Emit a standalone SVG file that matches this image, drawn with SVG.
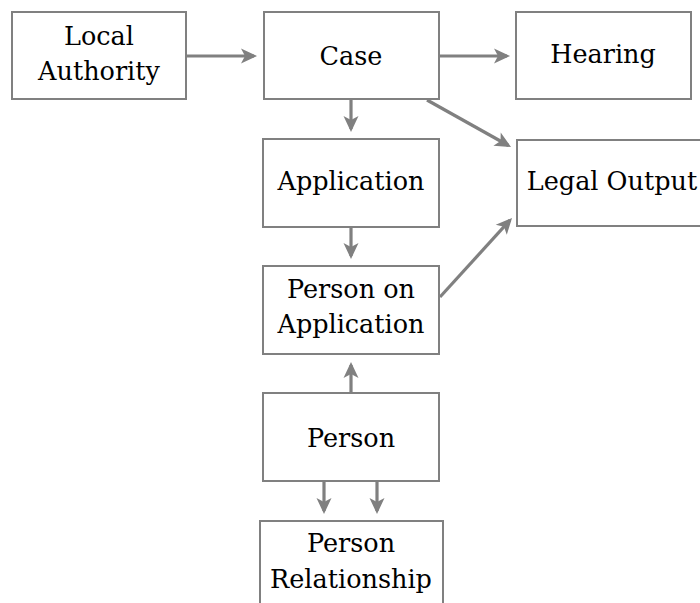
<svg xmlns="http://www.w3.org/2000/svg" width="700" height="603" viewBox="0 0 700 603">
<style>
.box{fill:#fff;stroke:#808080;stroke-width:2}
.lbl{font-family:"DejaVu Serif","Liberation Serif",serif;font-size:25.5px;fill:#000;text-anchor:middle}
.edge{fill:none;stroke:#808080;stroke-width:3.2}
</style>
<defs>
<marker id="ah" viewBox="-18 -9 19 18" refX="-3" refY="0" markerWidth="19" markerHeight="18" markerUnits="userSpaceOnUse" orient="auto">
<path d="M0,0 L-16,-7.5 L-12,0 L-16,7.5 z" fill="#808080"/>
</marker>
</defs>
<rect width="700" height="603" fill="#fff"/>
<g id="connectors">
<path class="edge" marker-end="url(#ah)" d="M186,56 L254,56"/>
<path class="edge" marker-end="url(#ah)" d="M439,56 L507,56"/>
<path class="edge" marker-end="url(#ah)" d="M351,99 L351,129"/>
<path class="edge" marker-end="url(#ah)" d="M427,100 L508.4,145.5"/>
<path class="edge" marker-end="url(#ah)" d="M351,227 L351,256"/>
<path class="edge" marker-end="url(#ah)" d="M440,297 L510,220.2"/>
<path class="edge" marker-end="url(#ah)" d="M351,393 L351,365"/>
<path class="edge" marker-end="url(#ah)" d="M324,481 L324,511"/>
<path class="edge" marker-end="url(#ah)" d="M377,481 L377,511"/>
</g>
<g id="local-authority">
<rect class="box" x="12" y="12" width="174" height="87"/>
<text class="lbl" x="99" y="45">Local</text>
<text class="lbl" x="99" y="80">Authority</text>
</g>
<g id="case">
<rect class="box" x="264" y="12" width="175" height="87"/>
<text class="lbl" x="351" y="65">Case</text>
</g>
<g id="hearing">
<rect class="box" x="516" y="12" width="175" height="87"/>
<text class="lbl" x="603" y="63">Hearing</text>
</g>
<g id="application">
<rect class="box" x="263" y="139" width="176" height="88"/>
<text class="lbl" x="351" y="190">Application</text>
</g>
<g id="legal-output">
<rect class="box" x="517" y="140" width="200" height="86"/>
<text class="lbl" x="612" y="190">Legal Output</text>
</g>
<g id="person-on-application">
<rect class="box" x="263" y="266" width="176" height="88"/>
<text class="lbl" x="351" y="298">Person on</text>
<text class="lbl" x="351" y="333">Application</text>
</g>
<g id="person">
<rect class="box" x="263" y="393" width="176" height="88"/>
<text class="lbl" x="351" y="447">Person</text>
</g>
<g id="person-relationship">
<rect class="box" x="260" y="521" width="183" height="100"/>
<text class="lbl" x="351" y="552">Person</text>
<text class="lbl" x="351" y="588">Relationship</text>
</g>
</svg>
